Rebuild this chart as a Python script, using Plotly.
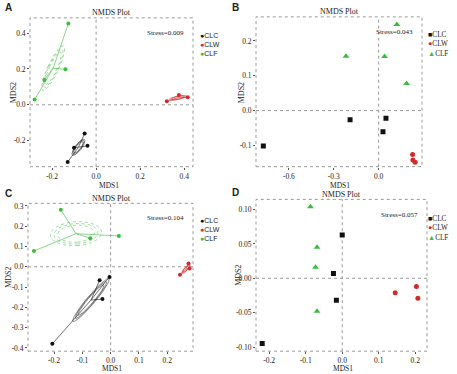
import numpy as np
import plotly.graph_objects as go

W, H = 457, 374

# ---------------- data ----------------
groups = ["CLC", "CLW", "CLF"]

# Panel A
A_CLC_x = [-0.129, -0.100, -0.052, -0.039]
A_CLC_y = [-0.319, -0.239, -0.160, -0.229]
A_CLW_x = [0.321, 0.376, 0.416]
A_CLW_y = [0.020, 0.055, 0.042]
A_CLF_x = [-0.279, -0.235, -0.139, -0.126]
A_CLF_y = [0.029, 0.139, 0.198, 0.453]
A_stress = "Stress=0.009"

# Panel B
B_CLC_x = [-0.771, -0.191, 0.049, 0.029]
B_CLC_y = [-0.102, -0.026, -0.022, -0.061]
B_CLW_x = [0.227, 0.229, 0.244]
B_CLW_y = [-0.126, -0.142, -0.148]
B_CLF_x = [0.122, -0.218, 0.040, 0.187]
B_CLF_y = [0.247, 0.156, 0.155, 0.078]
B_stress = "Stress=0.043"

# Panel C
C_CLC_x = [-0.206, -0.039, -0.004, -0.029]
C_CLC_y = [-0.380, -0.067, -0.050, -0.159]
C_CLW_x = [0.245, 0.275, 0.279]
C_CLW_y = [-0.039, 0.016, -0.009]
C_CLF_x = [-0.176, -0.271, -0.072, 0.029]
C_CLF_y = [0.281, 0.078, 0.141, 0.152]
C_stress = "Stress=0.104"

# Panel D
D_CLC_x = [0.000, -0.024, -0.016, -0.219]
D_CLC_y = [0.063, 0.007, -0.032, -0.095]
D_CLW_x = [0.145, 0.203, 0.207]
D_CLW_y = [-0.021, -0.012, -0.029]
D_CLF_x = [-0.087, -0.069, -0.073, -0.069]
D_CLF_y = [0.104, 0.045, 0.016, -0.048]
D_stress = "Stress=0.057"

# axis ticks
A_xticks = [-0.2, 0.0, 0.2, 0.4]
A_yticks = [-0.2, 0.0, 0.2, 0.4]
B_xticks = [-0.6, -0.3, 0.0, 0.3]
B_yticks = [-0.1, 0.0, 0.1, 0.2]
C_xticks = [-0.2, -0.1, 0.0, 0.1, 0.2, 0.3]
C_yticks = [-0.4, -0.3, -0.2, -0.1, 0.0, 0.1, 0.2, 0.3]
D_xticks = [-0.2, -0.1, 0.0, 0.1, 0.2]
D_yticks = [-0.10, -0.05, 0.00, 0.05, 0.10]

# ---------------- styling ----------------
COL = {"CLC": "#111111", "CLW": "#d42a2a", "CLF": "#3dbb3d"}
SERIF = "Liberation Serif"
SANS = "Liberation Sans"

def px_dom_x(a, b):
    return [a / W, b / W]

def px_dom_y(top, bottom):
    return [1 - bottom / H, 1 - top / H]

panels = [
    dict(key="A", dx=px_dom_x(30, 193), dy=px_dom_y(16, 166),
         xr=[-0.30, 0.44], yr=[-0.345, 0.485], xt=A_xticks, yt=A_yticks, xfmt=".1f", yfmt=".1f",
         data={"CLC": (A_CLC_x, A_CLC_y), "CLW": (A_CLW_x, A_CLW_y), "CLF": (A_CLF_x, A_CLF_y)},
         stress=A_stress, ell=True),
    dict(key="B", dx=px_dom_x(256, 422), dy=px_dom_y(15, 166),
         xr=[-0.82, 0.29], yr=[-0.161, 0.269], xt=B_xticks, yt=B_yticks, xfmt=".1f", yfmt=".1f",
         data={"CLC": (B_CLC_x, B_CLC_y), "CLW": (B_CLW_x, B_CLW_y), "CLF": (B_CLF_x, B_CLF_y)},
         stress=B_stress, ell=False),
    dict(key="C", dx=px_dom_x(28, 193), dy=px_dom_y(203, 352),
         xr=[-0.292, 0.291], yr=[-0.416, 0.3125], xt=C_xticks, yt=C_yticks, xfmt=".1f", yfmt=".1f",
         data={"CLC": (C_CLC_x, C_CLC_y), "CLW": (C_CLW_x, C_CLW_y), "CLF": (C_CLF_x, C_CLF_y)},
         stress=C_stress, ell=True),
    dict(key="D", dx=px_dom_x(256, 427), dy=px_dom_y(199, 352),
         xr=[-0.236, 0.232], yr=[-0.106, 0.1147], xt=D_xticks, yt=D_yticks, xfmt=".1f", yfmt=".2f",
         data={"CLC": (D_CLC_x, D_CLC_y), "CLW": (D_CLW_x, D_CLW_y), "CLF": (D_CLF_x, D_CLF_y)},
         stress=D_stress, ell=False),
]

def ellipse(xs, ys, scale, n=80):
    pts = np.column_stack([xs, ys])
    c = pts.mean(axis=0)
    cov = np.cov(pts.T) / len(xs)
    vals, vecs = np.linalg.eigh(cov)
    vals = np.clip(vals, 0, None)
    t = np.linspace(0, 2 * np.pi, n)
    circ = np.vstack([np.cos(t), np.sin(t)])
    e = vecs @ (np.sqrt(vals)[:, None] * circ) * scale
    return c[0] + e[0], c[1] + e[1]

fig = go.Figure()
shapes = []
annotations = []
layout_axes = {}

for i, p in enumerate(panels):
    n = "" if i == 0 else str(i + 1)
    xa, ya = "x" + n, "y" + n
    xlay, ylay = "xaxis" + n, "yaxis" + n
    common = dict(showgrid=False, zeroline=False, showline=False, ticks="outside",
                  ticklen=2, tickwidth=1, tickcolor="#555",
                  tickfont=dict(family=SERIF, size=7.5, color="#222"))
    layout_axes[xlay] = dict(domain=p["dx"], range=p["xr"], anchor=ya, tickvals=p["xt"],
                             ticktext=[format(v, p["xfmt"]) for v in p["xt"]], **common)
    layout_axes[ylay] = dict(domain=p["dy"], range=p["yr"], anchor=xa, tickvals=p["yt"],
                             ticktext=[format(v, p["yfmt"]) for v in p["yt"]], **common)

    # border and zero lines
    shapes.append(dict(type="rect", xref=xa + " domain", yref=ya + " domain", x0=0, x1=1, y0=0, y1=1,
                       line=dict(color="#9a9a9a", width=1, dash="dot"), layer="below"))
    shapes.append(dict(type="line", xref=xa, yref=ya + " domain", x0=0, x1=0, y0=0, y1=1,
                       line=dict(color="#9a9a9a", width=1, dash="dot"), layer="below"))
    shapes.append(dict(type="line", xref=xa + " domain", yref=ya, x0=0, x1=1, y0=0, y1=0,
                       line=dict(color="#9a9a9a", width=1, dash="dot"), layer="below"))

    for g in groups:
        xs, ys = p["data"][g]
        col = COL[g]
        if p["ell"]:
            cx, cy = float(np.mean(xs)), float(np.mean(ys))
            sx, sy = [], []
            for x, y in zip(xs, ys):
                sx += [cx, x, None]
                sy += [cy, y, None]
            fig.add_trace(go.Scatter(x=sx, y=sy, mode="lines", xaxis=xa, yaxis=ya,
                                     line=dict(color=col, width=0.8), opacity=0.75,
                                     showlegend=False, hoverinfo="skip"))
            for sc in (1.0, 1.2, 1.4):
                ex, ey = ellipse(xs, ys, sc)
                fig.add_trace(go.Scatter(x=ex, y=ey, mode="lines", xaxis=xa, yaxis=ya,
                                         line=dict(color=col, width=0.7,
                                                   dash="dot" if g == "CLF" else "solid"),
                                         opacity=0.7, showlegend=False, hoverinfo="skip"))
            fig.add_trace(go.Scatter(x=xs, y=ys, mode="markers", xaxis=xa, yaxis=ya,
                                     marker=dict(color=col, size=4, symbol="circle"),
                                     showlegend=False, name=g))
        else:
            sym = {"CLC": "square", "CLW": "circle", "CLF": "triangle-up"}[g]
            size = {"CLC": 5, "CLW": 5, "CLF": 6}[g]
            fig.add_trace(go.Scatter(x=xs, y=ys, mode="markers", xaxis=xa, yaxis=ya,
                                     marker=dict(color=col, size=size, symbol=sym),
                                     showlegend=False, name=g))

    # stress label
    annotations.append(dict(text=p["stress"], xref=xa + " domain", yref=ya + " domain",
                            x=0.96, y=0.90, xanchor="right", yanchor="middle", showarrow=False,
                            font=dict(family=SERIF, size=7, color="#222")))

# text positions in pixels
def pa(x, y, text, size, family, bold=False, angle=0, xanchor="center", color="#222", align="center"):
    annotations.append(dict(text=("<b>%s</b>" % text) if bold else text, xref="paper", yref="paper",
                            x=x / W, y=1 - y / H, xanchor=xanchor, yanchor="middle",
                            showarrow=False, textangle=angle, align=align,
                            font=dict(family=family, size=size, color=color)))

# titles
for cx, ty in [(111, 11), (339, 10), (111, 198), (341, 194)]:
    pa(cx, ty, "NMDS Plot", 8, SERIF)
# axis titles
for cx, ty in [(109, 184.5), (340, 184.5), (112, 369.5), (343, 369.8)]:
    pa(cx, ty, "MDS1", 7.5, SERIF)
for cx, ty in [(13, 92), (241, 92), (9, 278), (239, 276)]:
    pa(cx, ty, "MDS2", 8, SERIF, angle=-90)
# panel letters
for (lx, ly, t) in [(3, 6, "A"), (230, 6, "B"), (3, 193, "C"), (230, 192, "D")]:
    pa(lx, ly, t, 10, SANS, bold=True, xanchor="left")

# legends (one text block per panel)
legend_sym_round = {"CLC": "●", "CLW": "●", "CLF": "●"}
legend_sym_shape = {"CLC": "■", "CLW": "●", "CLF": "▲"}
for (lx, ly, syms, fam, sz) in [(198, 43, legend_sym_round, SANS, 7),
                                (426, 43, legend_sym_shape, SERIF, 7.2),
                                (198, 229, legend_sym_round, SANS, 7),
                                (426, 228, legend_sym_shape, SERIF, 7.2)]:
    lines = ["<span style='color:%s'>%s</span>%s" % (COL[g], syms[g], g) for g in groups]
    pa(lx, ly, "<br>".join(lines), sz, fam, xanchor="left", align="left")

fig.update_layout(width=W, height=H, margin=dict(l=0, r=0, t=0, b=0),
                  paper_bgcolor="white", plot_bgcolor="white",
                  showlegend=False, shapes=shapes, annotations=annotations, **layout_axes)

fig.write_html("out.html", config={"displayModeBar": False},
               post_script="document.body.style.margin='0px';")
